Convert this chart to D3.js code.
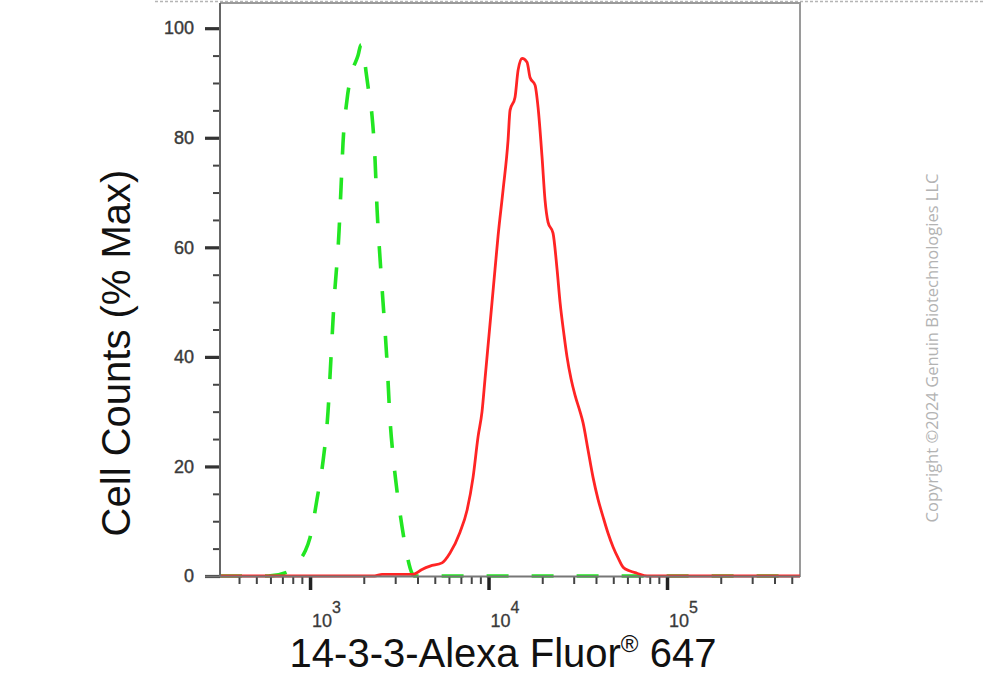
<!DOCTYPE html>
<html>
<head>
<meta charset="utf-8">
<script src="https://cdn.jsdelivr.net/npm/d3@7/dist/d3.min.js"></script>
<style>
  html, body { margin: 0; padding: 0; background: #fff; }
  svg { display: block; }
</style>
</head>
<body>
<svg id="chart" width="983" height="700"></svg>
<script>
// ---- data ----
const xDomain = [313, 556000];
const yDomain = [0, 104.6];
const xMajorTicks = [1e3, 1e4, 1e5];
const xMajorExponents = ["3", "4", "5"];
const xMinorTicks = [400, 500, 600, 700, 800, 900,
  2000, 3000, 4000, 5000, 6000, 7000, 8000, 9000,
  20000, 30000, 40000, 50000, 60000, 70000, 80000, 90000,
  200000, 300000, 400000, 500000];
const yMajorTicks = [0, 20, 40, 60, 80, 100];
const yMinorTicks = [5, 10, 15, 25, 30, 35, 45, 50, 55, 65, 70, 75, 85, 90, 95];

const xTitle = "14-3-3-Alexa Fluor";
const xTitleTail = " 647";
const yTitle = "Cell Counts (% Max)";
const copyright = "Copyright ©2024 Genuin Biotechnologies LLC";

// isotype control (green dashed): [fluorescence, % max]
const controlFluor = [313, 582, 743, 879, 938, 1000, 1094, 1183, 1261, 1311, 1363, 1454, 1492, 1530, 1612, 1719, 1857, 1931, 2007, 2060, 2141, 2225, 2313, 2374, 2467, 2564, 2701, 2807, 2917, 3032, 3277, 3494, 3728, 3875, 556000];
const controlPct   = [0,   0,   0.7, 3,   4.5, 7,    14,   21,   30,   40,   50,   63,   71,   79,   87,   92,   95,   97,   95,   92,   88,   84,   76,   67,   58,   50,   39,   28.5, 22,   17,   9,    3.8,  0.5,  0,    0];

// 14-3-3 stained (red solid)
const sampleFluor = [313, 2300, 2532, 3193, 3776, 4241, 4703, 5489, 6085, 6922, 7580, 8191, 8735, 9196, 9559, 9936, 10462, 10875, 11304, 12058, 12862, 13198, 14079, 14635, 15409, 16437, 17084, 18224, 18942, 19944, 20731, 21544, 22981, 24205, 25155, 26485, 27530, 28987, 30520, 32556, 33840, 36098, 38508, 41078, 43820, 46744, 49864, 53192, 56741, 62037, 67901, 77267, 556000];
const samplePct   = [0,   0,    0.3,  0.3,  0.3,  1.2,  1.8,  2.4,  4.2,  8,    12,   18,   25.4, 30,   36,   42,   50,    56,    62,    70.4,  79.5,  85,    87.4,  92.3,  94.5,  93.8,  91,    89.6,  85.6,  76.5,  68.6,  64.6,  62.6,  56,    50,    44,    40,    36,    33,    30,    28,    23,    18,    14,    10.8,  7.8,   5.3,   3.3,   1.6,   0.9,   0.5,   0,     0];

// ---- layout ----
const svg = d3.select("#chart");
const mLeft = 220, mRight = 800, mTop = 3, mBottom = 576;

const x = d3.scaleLog().domain(xDomain).range([mLeft, mRight]);
const y = d3.scaleLinear().domain(yDomain).range([mBottom, mTop]);

// top dashed page border
svg.append("line")
  .attr("x1", 155).attr("x2", 983).attr("y1", 1.5).attr("y2", 1.5)
  .attr("stroke", "#b5b5b5").attr("stroke-width", 1.5)
  .attr("stroke-dasharray", "3,2");

// frame (top & right)
svg.append("path")
  .attr("d", `M${mLeft},${mTop}H${mRight}V${mBottom + 1}`)
  .attr("fill", "none").attr("stroke", "#9a9a9a").attr("stroke-width", 2);

// curves
const line = d3.line().x(d => x(d[0])).y(d => y(d[1])).curve(d3.curveMonotoneX);
const controlData = controlFluor.map((f, i) => [f, controlPct[i]]);
const sampleData = sampleFluor.map((f, i) => [f, samplePct[i]]);

svg.append("path").datum(controlData)
  .attr("d", line)
  .attr("fill", "none").attr("stroke", "#22e622").attr("stroke-width", 3.6)
  .attr("stroke-dasharray", "22,23");

svg.append("path").datum(sampleData)
  .attr("d", line)
  .attr("fill", "none").attr("stroke", "#ff2424").attr("stroke-width", 2.8)
  .attr("stroke-linejoin", "round");

// y axis
const yMinorAxis = d3.axisLeft(y).tickValues(yMinorTicks).tickSize(7).tickFormat("");
const yMajorAxis = d3.axisLeft(y).tickValues(yMajorTicks).tickSize(15).tickPadding(11)
  .tickFormat(d3.format("d"));
const gyMinor = svg.append("g").attr("transform", `translate(${mLeft},0)`).call(yMinorAxis);
gyMinor.select(".domain").remove();
gyMinor.selectAll(".tick line").attr("stroke", "#444").attr("stroke-width", 2);
const gyMajor = svg.append("g").attr("transform", `translate(${mLeft},0)`).call(yMajorAxis);
gyMajor.select(".domain").remove();
gyMajor.selectAll(".tick line").attr("stroke", "#333").attr("stroke-width", 3.2);
gyMajor.selectAll(".tick text")
  .attr("font-family", "'Liberation Sans', Arial, sans-serif")
  .attr("font-size", 18).attr("fill", "#3a3a3a")
  .attr("stroke", "#3a3a3a").attr("stroke-width", 0.4);

svg.append("line")
  .attr("x1", mLeft).attr("x2", mLeft).attr("y1", mTop).attr("y2", mBottom + 1)
  .attr("stroke", "#666").attr("stroke-width", 2);

// x axis
const xMinorAxis = d3.axisBottom(x).tickValues(xMinorTicks).tickSize(8).tickFormat("");
const xMajorAxis = d3.axisBottom(x).tickValues(xMajorTicks).tickSize(14).tickFormat("");
const gxMinor = svg.append("g").attr("transform", `translate(0,${mBottom})`).call(xMinorAxis);
gxMinor.select(".domain").remove();
gxMinor.selectAll(".tick line").attr("stroke", "#444").attr("stroke-width", 2);
const gxMajor = svg.append("g").attr("transform", `translate(0,${mBottom})`).call(xMajorAxis);
gxMajor.select(".domain").remove();
gxMajor.selectAll(".tick line").attr("stroke", "#222").attr("stroke-width", 3.5);

svg.append("line")
  .attr("x1", mLeft - 15).attr("x2", mRight).attr("y1", mBottom + 0.5).attr("y2", mBottom + 0.5)
  .attr("stroke", "#777").attr("stroke-width", 2);

// x tick labels with superscripts
xMajorTicks.forEach((t, i) => {
  const tx = svg.append("text")
    .attr("x", x(t) + 2).attr("y", 627)
    .attr("font-family", "'Liberation Sans', Arial, sans-serif")
    .attr("font-size", 18).attr("fill", "#3a3a3a")
    .attr("stroke", "#3a3a3a").attr("stroke-width", 0.3);
  tx.append("tspan").text("10");
  tx.append("tspan").attr("dy", -14).attr("font-size", 16).text(xMajorExponents[i]);
});

// axis titles
const xt = svg.append("text")
  .attr("x", 503).attr("y", 667).attr("text-anchor", "middle")
  .attr("font-family", "'Liberation Sans', Arial, sans-serif")
  .attr("font-size", 40).attr("fill", "#111");
xt.append("tspan").text(xTitle);
xt.append("tspan").attr("dy", -15).attr("font-size", 24).text("®");
xt.append("tspan").attr("dy", 15).text(xTitleTail);

svg.append("text")
  .attr("transform", "translate(130,353) rotate(-90)")
  .attr("text-anchor", "middle")
  .attr("font-family", "'Liberation Sans', Arial, sans-serif")
  .attr("font-size", 40).attr("fill", "#111")
  .text(yTitle);

svg.append("text")
  .attr("transform", "translate(938,348) rotate(-90)")
  .attr("text-anchor", "middle")
  .attr("font-family", "'Open Sans', sans-serif")
  .attr("font-size", 16.5).attr("fill", "#b3b3b3")
  .text(copyright);
</script>
</body>
</html>
